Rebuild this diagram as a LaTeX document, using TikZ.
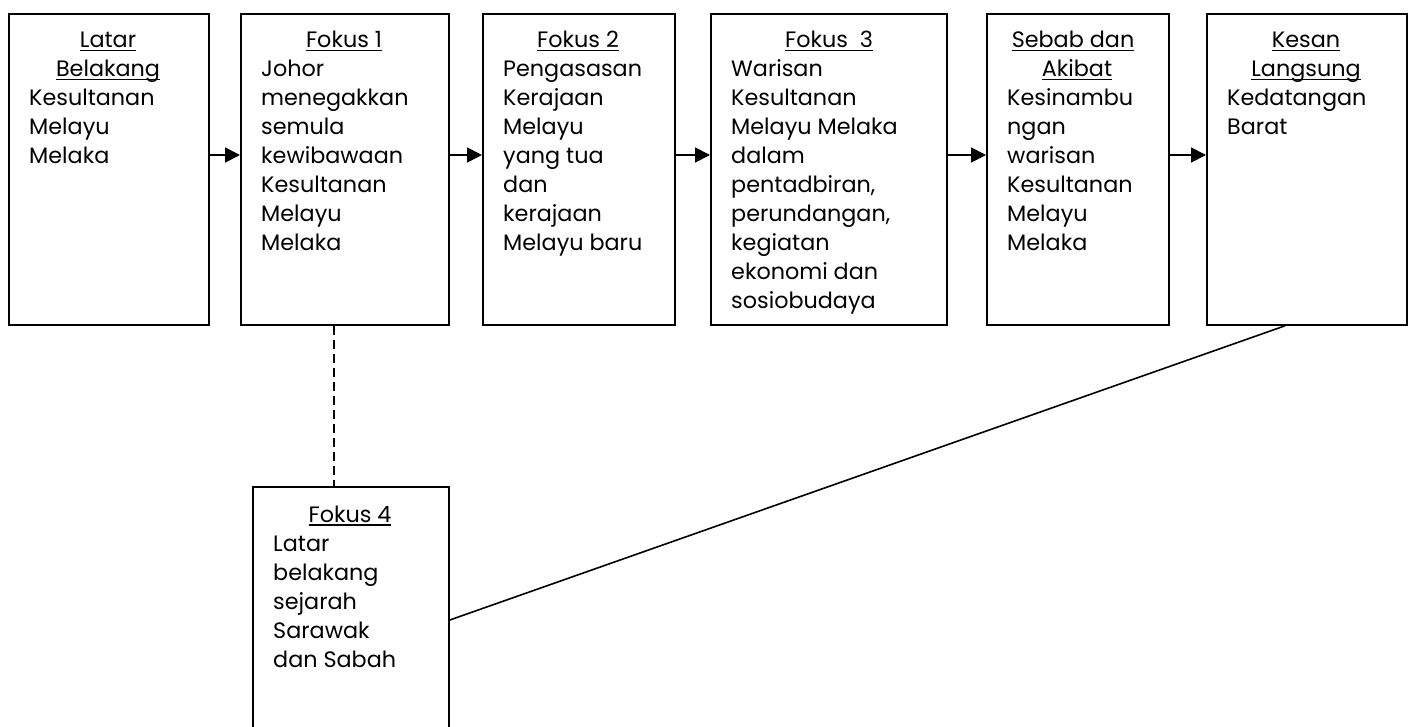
\documentclass[tikz,border=0pt]{standalone}
\usepackage{fontspec}
\setmainfont{Poppins}
\usetikzlibrary{arrows.meta}
\newcommand\ulx[1]{\setbox0\hbox{#1}\rlap{\rule[-3.5pt]{\wd0}{1.6pt}}\box0}
\newcommand\bodytext[1]{\vtop{\baselineskip=29pt \halign{##\hfil\cr #1\crcr}}}
\tikzset{
  box/.style={draw, line width=1.8pt, rectangle, anchor=north west, inner sep=0pt, minimum height=311pt},
  ttl/.style={anchor=base, inner sep=0pt},
  bdy/.style={anchor=base west, inner sep=0pt},
  arr/.style={line width=1.8pt, -{Triangle[length=15pt,width=15pt]}},
  conn/.style={line width=1.6pt},
  dconn/.style={line width=1.6pt, dash pattern=on 9pt off 5pt},
}
\begin{document}
\begin{tikzpicture}[x=1pt,y=-1pt,font=\fontsize{22.3}{29}\selectfont]
\useasboundingbox (0,0) rectangle (1410,727);
% boxes
\node[box, minimum width=200pt] (b1) at (8,13) {};
\node[box, minimum width=208pt] (b2) at (240,13) {};
\node[box, minimum width=192pt] (b3) at (482,13) {};
\node[box, minimum width=236pt] (b4) at (710,13) {};
\node[box, minimum width=182pt] (b5) at (986,13) {};
\node[box, minimum width=200pt] (b6) at (1206,13) {};
\node[box, minimum width=196pt, minimum height=300pt] (b7) at (252,486) {};
% titles
\node[ttl] (t1a) at (108,48) {\ulx{Latar}};
\node[ttl] (t1b) at (108,77) {\ulx{Belakang}};
\node[ttl] (t2) at (344,48) {\ulx{Fokus 1}};
\node[ttl] (t3) at (578,48) {\ulx{Fokus 2}};
\node[ttl] (t4) at (829,48) {\ulx{Fokus\ \ 3}};
\node[ttl] (t5a) at (1073,48) {\ulx{Sebab dan}};
\node[ttl] (t5b) at (1077,77) {\ulx{Akibat}};
\node[ttl] (t6a) at (1306,48) {\ulx{Kesan}};
\node[ttl] (t6b) at (1306,77) {\ulx{Langsung}};
\node[ttl] (t7) at (350,522) {\ulx{Fokus 4}};
% bodies
\node[bdy] (x1) at (29,106) {\bodytext{Kesultanan\cr Melayu\cr Melaka}};
\node[bdy] (x2) at (261,77) {\bodytext{Johor\cr menegakkan\cr semula\cr kewibawaan\cr Kesultanan\cr Melayu\cr Melaka}};
\node[bdy] (x3) at (503,77) {\bodytext{Pengasasan\cr Kerajaan\cr Melayu\cr yang tua\cr dan\cr kerajaan\cr Melayu baru}};
\node[bdy] (x4) at (731,77) {\bodytext{Warisan\cr Kesultanan\cr Melayu Melaka\cr dalam\cr pentadbiran,\cr perundangan,\cr kegiatan\cr ekonomi dan\cr sosiobudaya}};
\node[bdy] (x5) at (1007,106) {\bodytext{Kesinambu\cr ngan\cr warisan\cr Kesultanan\cr Melayu\cr Melaka}};
\node[bdy] (x6) at (1227,106) {\bodytext{Kedatangan\cr Barat}};
\node[bdy] (x7) at (273,551) {\bodytext{Latar\cr belakang\cr sejarah\cr Sarawak\cr dan Sabah}};
% connectors
\coordinate (ay) at (0,155);
\draw[arr] (b1.east |- ay) -- (b2.west |- ay);
\draw[arr] (b2.east |- ay) -- (b3.west |- ay);
\draw[arr] (b3.east |- ay) -- (b4.west |- ay);
\draw[arr] (b4.east |- ay) -- (b5.west |- ay);
\draw[arr] (b5.east |- ay) -- (b6.west |- ay);
\coordinate (dx) at (334,0);
\draw[dconn] (b2.south -| dx) -- (b7.north -| dx);
\coordinate (lx) at (1285,0);
\coordinate (ly) at (0,620);
\draw[conn] (b6.south -| lx) -- (b7.east |- ly);
\end{tikzpicture}
\end{document}
